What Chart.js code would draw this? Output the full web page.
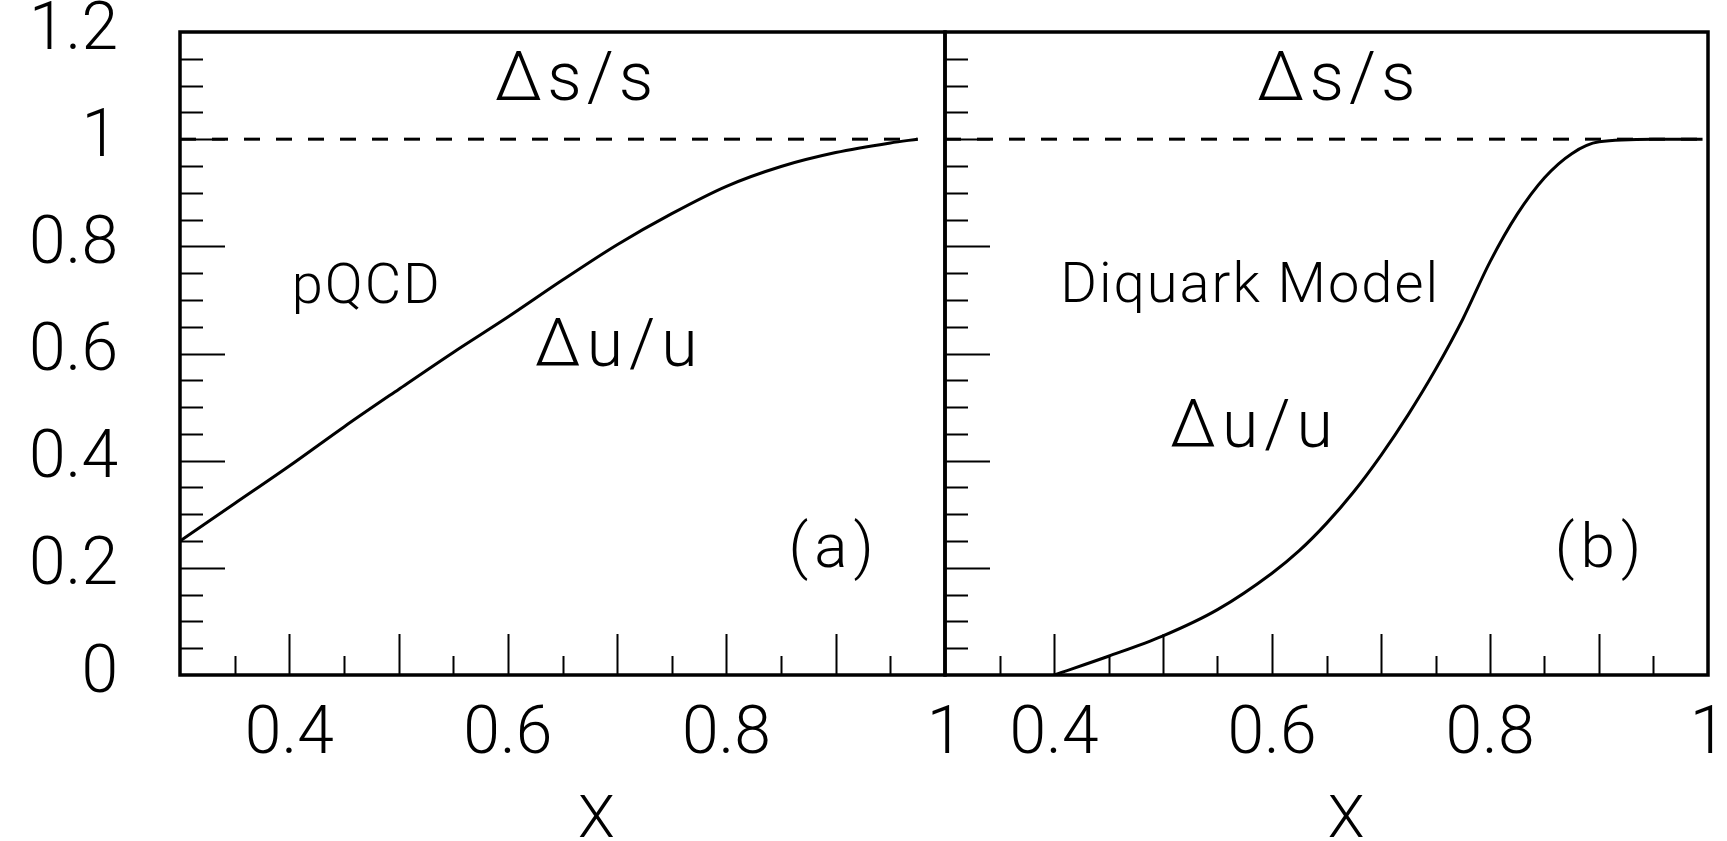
<!DOCTYPE html>
<html>
<head>
<meta charset="utf-8">
<title>Δu/u and Δs/s</title>
<script src="https://cdn.jsdelivr.net/npm/chart.js@4/dist/chart.umd.min.js"></script>
<style>
  html, body { margin: 0; padding: 0; background: #fff; }
  #wrap { position: relative; width: 1727px; height: 841px; overflow: hidden; }
  canvas { position: absolute; top: 0; }
  #panelA { left: 0; }
  #panelB { left: 760px; }
</style>
</head>
<body>
<div id="wrap">
  <canvas id="panelA" width="960" height="841"></canvas>
  <canvas id="panelB" width="967" height="841"></canvas>
</div>
<script>
// axis ranges
const xMin = 0.3, xMax = 1.0;
const yMin = 0, yMax = 1.2;

// (a) pQCD: Δu/u vs x
const pqcdX  = [0.3, 0.35, 0.4, 0.45, 0.5, 0.55, 0.6, 0.65, 0.7, 0.75, 0.8, 0.85, 0.9, 0.95, 0.975];
const pqcdDu = [0.25, 0.32, 0.39, 0.463, 0.533, 0.602, 0.668, 0.737, 0.803, 0.861, 0.912, 0.949, 0.975, 0.993, 1.0];

// (b) diquark model: Δu/u vs x
const dqX  = [0.4, 0.45, 0.5, 0.55, 0.6, 0.625, 0.65, 0.675, 0.7, 0.725, 0.75, 0.775, 0.8, 0.825, 0.85, 0.875, 0.9, 0.95, 0.995];
const dqDu = [0.0, 0.035, 0.073, 0.122, 0.19, 0.232, 0.283, 0.342, 0.41, 0.486, 0.57, 0.664, 0.771, 0.86, 0.928, 0.973, 0.995, 1.0, 1.0];

// Δs/s = 1 in both models (dashed)
const dsX_a = [0.3, 0.975];
const dsX_b = [0.3, 0.995];
const dsVal = [1, 1];

const FONT = 'Roboto, "DejaVu Sans", sans-serif';

const pts = (xs, ys) => xs.map((v, i) => ({ x: v, y: ys[i] }));
const onStep = (v, step) => Math.abs(v / step - Math.round(v / step)) < 1e-6;

// no extra room for labels hanging over the plot edges
const noPad = s => { s.paddingTop = 0; s.paddingBottom = 0; s.paddingLeft = 0; s.paddingRight = 0; };

// ROOT-like frame with inward ticks, plus the text annotations
const frameAndTicks = {
  id: 'frameAndTicks',
  afterDraw(chart, args, opts) {
    const { ctx, chartArea: a, scales: { x, y } } = chart;
    ctx.save();
    ctx.strokeStyle = '#000';
    ctx.lineWidth = 2;
    ctx.beginPath();
    x.ticks.forEach(t => {
      if (t.value <= xMin + 1e-6 || t.value >= xMax - 1e-6) return;
      const px = Math.round(x.getPixelForValue(t.value)) + 0.5;
      const len = onStep(t.value, 0.1) ? 41 : 19;
      ctx.moveTo(px, a.bottom);
      ctx.lineTo(px, a.bottom - len);
    });
    y.ticks.forEach(t => {
      if (t.value <= yMin + 1e-6 || t.value >= yMax - 1e-6) return;
      const py = Math.round(y.getPixelForValue(t.value)) + 0.5;
      const len = onStep(t.value, 0.2) ? 45 : 23;
      ctx.moveTo(a.left, py);
      ctx.lineTo(a.left + len, py);
    });
    ctx.stroke();

    ctx.lineWidth = 3.5;
    ctx.strokeRect(a.left, a.top, a.right - a.left, a.bottom - a.top);

    ctx.fillStyle = '#000';
    ctx.textAlign = 'center';
    ctx.textBaseline = 'alphabetic';
    (opts.notes || []).forEach(n => {
      ctx.font = `300 ${n.size}px ${FONT}`;
      ctx.letterSpacing = (n.spacing || 0) + 'px';
      ctx.fillText(n.text, x.getPixelForValue(n.x) + (n.spacing || 0) / 2, y.getPixelForValue(n.y));
    });
    ctx.restore();
  }
};

function makePanel(id, curve, dashX, notes, yAxisWidth, padRight, showYLabels) {
  return new Chart(document.getElementById(id), {
    type: 'line',
    data: {
      datasets: [
        {
          data: curve,
          borderColor: '#000',
          borderWidth: 3,
          pointRadius: 0,
          cubicInterpolationMode: 'monotone',
          fill: false
        },
        {
          data: pts(dashX, dsVal),
          borderColor: '#000',
          borderWidth: 3,
          borderDash: [16, 16],
          pointRadius: 0,
          fill: false
        }
      ]
    },
    options: {
      responsive: false,
      animation: false,
      events: [],
      layout: { padding: { top: 32, right: padRight, left: 0, bottom: 0 } },
      plugins: {
        legend: { display: false },
        tooltip: { enabled: false },
        frameAndTicks: { notes }
      },
      scales: {
        x: {
          type: 'linear',
          min: xMin,
          max: xMax,
          grid: { display: false, drawTicks: false },
          border: { display: false },
          ticks: {
            stepSize: 0.05,
            autoSkip: false,
            maxRotation: 0,
            padding: 22,
            color: '#000',
            font: { family: FONT, size: 66, weight: '300' },
            callback: v => (onStep(v, 0.2) ? String(Math.round(v * 10) / 10) : '')
          },
          afterFit: s => { noPad(s); s.height = 166; }
        },
        y: {
          type: 'linear',
          min: yMin,
          max: yMax,
          grid: { display: false, drawTicks: false },
          border: { display: false },
          ticks: {
            stepSize: 0.05,
            autoSkip: false,
            padding: 62,
            color: '#000',
            font: { family: FONT, size: 66, weight: '300' },
            callback: v => (showYLabels && onStep(v, 0.2) ? String(Math.round(v * 10) / 10) : '')
          },
          afterFit: s => { noPad(s); s.width = yAxisWidth; }
        }
      }
    },
    plugins: [frameAndTicks]
  });
}

makePanel('panelA', pts(pqcdX, pqcdDu), dsX_a, [
  { text: 'Δs/s', x: 0.6605, y: 1.073, size: 68, spacing: 5 },
  { text: 'pQCD', x: 0.470, y: 0.695, size: 56, spacing: 2 },
  { text: 'Δu/u', x: 0.699, y: 0.576, size: 66, spacing: 6 },
  { text: '(a)', x: 0.8957, y: 0.202, size: 62, spacing: 6 },
  { text: 'X', x: 0.681, y: -0.303, size: 60 }
], 180, 15, true);

makePanel('panelB', pts(dqX, dqDu), dsX_b, [
  { text: 'Δs/s', x: 0.659, y: 1.073, size: 68, spacing: 5 },
  { text: 'Diquark Model', x: 0.579, y: 0.697, size: 56, spacing: 2 },
  { text: 'Δu/u', x: 0.581, y: 0.426, size: 66, spacing: 6 },
  { text: '(b)', x: 0.899, y: 0.202, size: 62, spacing: 6 },
  { text: 'X', x: 0.668, y: -0.303, size: 60 }
], 185, 19, false);
</script>
</body>
</html>
